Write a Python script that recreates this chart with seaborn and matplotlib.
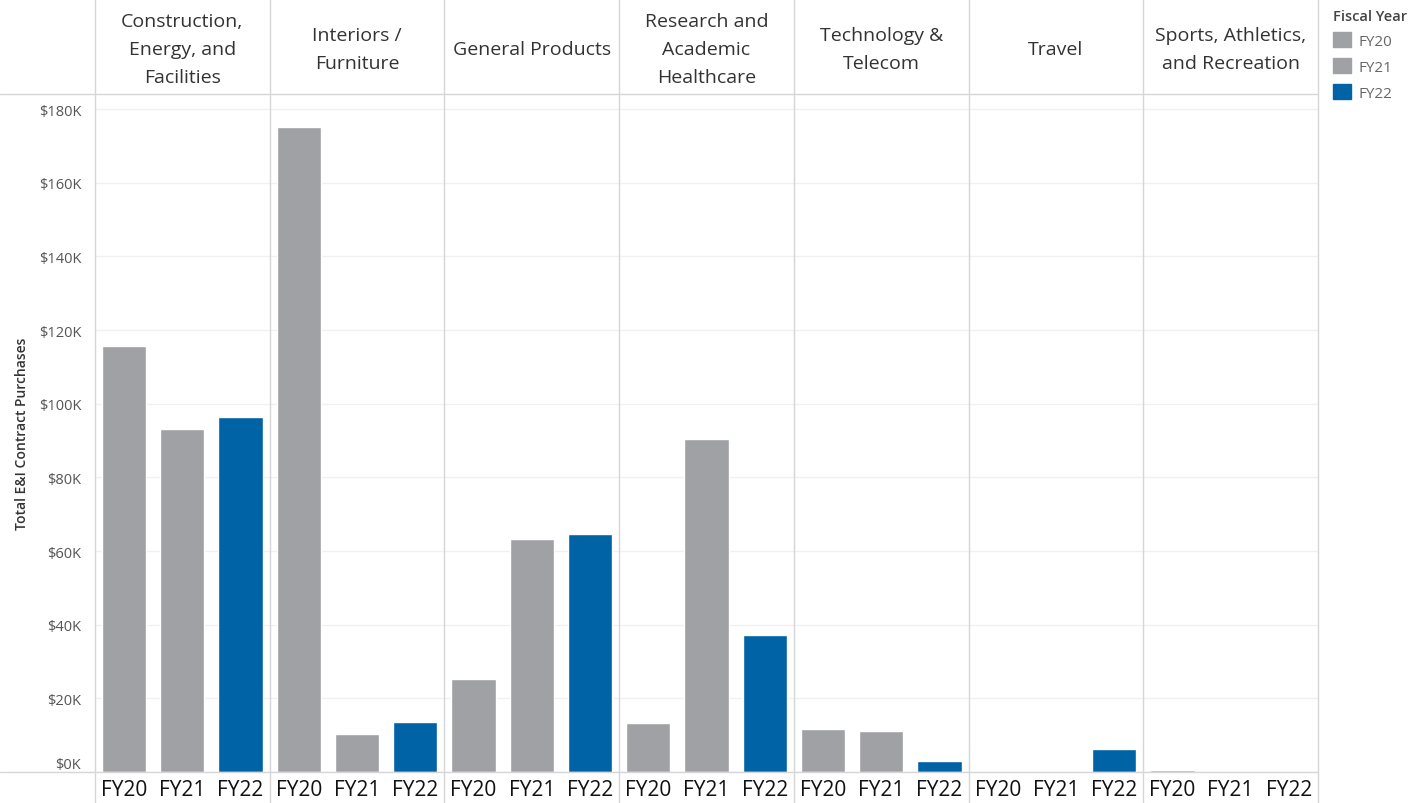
import pandas as pd
import matplotlib.pyplot as plt
import seaborn as sns
from matplotlib.lines import Line2D
from matplotlib.patches import Patch
from matplotlib.ticker import FuncFormatter

# ---------------- DATA ----------------
categories = [
    "Construction,\nEnergy, and\nFacilities",
    "Interiors /\nFurniture",
    "General Products",
    "Research and\nAcademic\nHealthcare",
    "Technology &\nTelecom",
    "Travel",
    "Sports, Athletics,\nand Recreation",
]
years = ["FY20", "FY21", "FY22"]
fy20 = [115700, 175100, 25200, 13300, 11700, 0, 500]
fy21 = [93100, 10300, 63300, 90400, 11100, 0, 0]
fy22 = [96400, 13600, 64600, 37200, 3000, 6200, 0]

rows = []
for i, cat in enumerate(categories):
    for yr, vals in zip(years, [fy20, fy21, fy22]):
        rows.append({"category": cat, "year": yr, "value": vals[i]})
df = pd.DataFrame(rows)

grey = "#a0a1a5"
blue = "#0063a6"
palette = {"FY20": grey, "FY21": grey, "FY22": blue}
line_col = "#d6d6d6"

sns.set_style("white")
plt.rcParams["font.family"] = ["Open Sans", "DejaVu Sans"]

W, H = 1410, 804
fig, axes = plt.subplots(1, 7, figsize=(W / 100, H / 100), dpi=100, sharey=True)
left_px, right_px, top_px, bottom_px = 95, 1318, 95, 773
fig.subplots_adjust(left=left_px / W, right=right_px / W,
                    top=1 - top_px / H, bottom=1 - bottom_px / H, wspace=0)

for i, (ax, cat) in enumerate(zip(axes, categories)):
    sub = df[df["category"] == cat]
    sns.barplot(data=sub, x="year", y="value", hue="year", palette=palette,
                order=years, width=0.76, legend=False, ax=ax, saturation=1)
    ax.set_ylim(0, 184100)
    ax.set_yticks(range(0, 180001, 20000))
    ax.yaxis.grid(True, color="#f0f0f0", linewidth=1)
    ax.set_axisbelow(True)
    for s in ax.spines.values():
        s.set_visible(False)
    ax.set_xlabel("")
    ax.set_ylabel("")
    ax.tick_params(axis="x", length=0, labelsize=15, labelcolor="#111111", pad=5)
    ax.tick_params(axis="y", length=0)
    ax.text(0.5, 1 + 45 / 678, cat, transform=ax.transAxes, ha="center",
            va="center", fontsize=14, color="#333333", linespacing=1.72)

axes[0].yaxis.set_major_formatter(FuncFormatter(lambda v, p: f"${v / 1000:.0f}K"))
axes[0].tick_params(axis="y", labelsize=10.5, labelcolor="#555555", length=4,
                    color=line_col, pad=6)
# lowest label sits just above the baseline, as in the reference
axes[0].get_yticklabels()[0].set_va("bottom")

# panel separators and header/axis rules
panel_w = (right_px - left_px) / 7
for k in range(8):
    x = (left_px + k * panel_w) / W
    fig.add_artist(Line2D([x, x], [0, 1], color=line_col, linewidth=1))
for y in [top_px, bottom_px]:
    fig.add_artist(Line2D([0, right_px / W], [1 - y / H, 1 - y / H],
                          color=line_col, linewidth=1))

fig.text(22 / W, 1 - 434 / H, "Total E&I Contract Purchases", rotation=90,
         ha="center", va="center", fontsize=10, fontweight="semibold",
         color="#333333")

handles = [Patch(color=palette[y]) for y in years]
leg = fig.legend(handles, years, title="Fiscal Year", loc="upper left",
                 bbox_to_anchor=(1333 / W, 1 - 10 / H), frameon=False,
                 fontsize=11, title_fontsize=10.5, handlelength=1.15,
                 handleheight=1.15, handletextpad=0.55, labelspacing=0.6,
                 borderaxespad=0, borderpad=0)
leg.get_title().set_fontweight("semibold")
leg.get_title().set_color("#444444")
leg._legend_box.align = "left"
for t in leg.get_texts():
    t.set_color("#666666")

plt.savefig("out.png", dpi=100)
plt.close()
